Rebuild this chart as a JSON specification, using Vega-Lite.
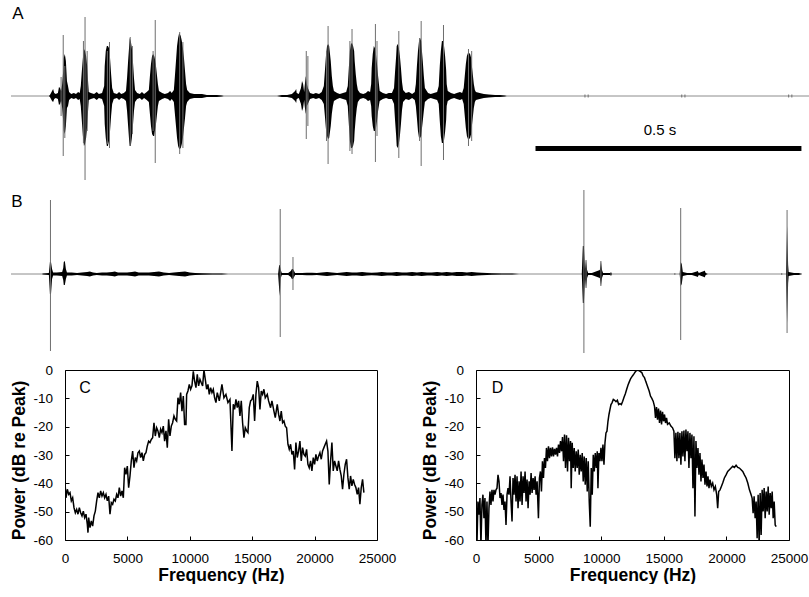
{
"$schema": "https://vega.github.io/schema/vega-lite/v6.json",
"background": "white",
"padding": {"left": 9, "top": 0, "right": 0, "bottom": 0},
"spacing": 0,
"config": {"font": "Liberation Sans", "view": {"stroke": null}, "axis": {"labelOverlap": false, "labelSeparation": 0}},
"datasets": {
"waveA": [
{"t":4,"hi":0,"lo":0},{"t":75,"hi":0,"lo":0},{"t":77,"hi":0.01,"lo":-0.01},{"t":81,"hi":0.05,"lo":-0.05},{"t":83,"hi":0.07,"lo":-0.06},{"t":85,"hi":0.03,"lo":-0.03},{"t":88,"hi":0.02,"lo":-0.02},{"t":92,"hi":0.03,"lo":-0.03},{"t":94,"hi":0.09,"lo":-0.09},{"t":96,"hi":0.08,"lo":-0.08},{"t":98,"hi":0.05,"lo":-0.05},{"t":100,"hi":0.12,"lo":-0.12},{"t":102,"hi":0.25,"lo":-0.25},{"t":103,"hi":0.38,"lo":-0.35},{"t":105,"hi":0.42,"lo":-0.38},{"t":107,"hi":0.35,"lo":-0.30},{"t":109,"hi":0.15,"lo":-0.12},{"t":111,"hi":0.10,"lo":-0.10},{"t":113,"hi":0.04,"lo":-0.04},{"t":117,"hi":0.02,"lo":-0.02},{"t":122,"hi":0.03,"lo":-0.03},{"t":126,"hi":0.02,"lo":-0.02},{"t":130,"hi":0.04,"lo":-0.04},{"t":133,"hi":0.03,"lo":-0.03},{"t":135,"hi":0.10,"lo":-0.10},{"t":137,"hi":0.25,"lo":-0.25},{"t":139,"hi":0.38,"lo":-0.40},{"t":141,"hi":0.47,"lo":-0.50},{"t":143,"hi":0.45,"lo":-0.48},{"t":145,"hi":0.40,"lo":-0.42},{"t":147,"hi":0.30,"lo":-0.30},{"t":149,"hi":0.12,"lo":-0.12},{"t":150,"hi":0.04,"lo":-0.04},{"t":154,"hi":0.03,"lo":-0.03},{"t":160,"hi":0.02,"lo":-0.02},{"t":165,"hi":0.04,"lo":-0.04},{"t":169,"hi":0.02,"lo":-0.02},{"t":175,"hi":0.03,"lo":-0.03},{"t":179,"hi":0.10,"lo":-0.10},{"t":180,"hi":0.30,"lo":-0.28},{"t":182,"hi":0.45,"lo":-0.42},{"t":184,"hi":0.50,"lo":-0.50},{"t":186,"hi":0.50,"lo":-0.50},{"t":188,"hi":0.48,"lo":-0.45},{"t":190,"hi":0.38,"lo":-0.35},{"t":192,"hi":0.22,"lo":-0.20},{"t":194,"hi":0.08,"lo":-0.08},{"t":197,"hi":0.03,"lo":-0.03},{"t":203,"hi":0.02,"lo":-0.02},{"t":207,"hi":0.04,"lo":-0.04},{"t":211,"hi":0.02,"lo":-0.02},{"t":216,"hi":0.03,"lo":-0.03},{"t":220,"hi":0.05,"lo":-0.05},{"t":222,"hi":0.18,"lo":-0.15},{"t":224,"hi":0.35,"lo":-0.30},{"t":226,"hi":0.50,"lo":-0.45},{"t":227,"hi":0.58,"lo":-0.50},{"t":229,"hi":0.55,"lo":-0.50},{"t":231,"hi":0.48,"lo":-0.42},{"t":233,"hi":0.35,"lo":-0.30},{"t":235,"hi":0.18,"lo":-0.15},{"t":237,"hi":0.06,"lo":-0.06},{"t":241,"hi":0.03,"lo":-0.03},{"t":246,"hi":0.02,"lo":-0.02},{"t":250,"hi":0.04,"lo":-0.04},{"t":254,"hi":0.02,"lo":-0.02},{"t":259,"hi":0.04,"lo":-0.04},{"t":263,"hi":0.06,"lo":-0.06},{"t":265,"hi":0.20,"lo":-0.18},{"t":267,"hi":0.32,"lo":-0.30},{"t":269,"hi":0.40,"lo":-0.38},{"t":271,"hi":0.42,"lo":-0.40},{"t":273,"hi":0.40,"lo":-0.40},{"t":274,"hi":0.38,"lo":-0.36},{"t":276,"hi":0.32,"lo":-0.30},{"t":278,"hi":0.22,"lo":-0.20},{"t":280,"hi":0.12,"lo":-0.10},{"t":282,"hi":0.05,"lo":-0.05},{"t":288,"hi":0.03,"lo":-0.03},{"t":293,"hi":0.02,"lo":-0.02},{"t":299,"hi":0.03,"lo":-0.03},{"t":303,"hi":0.05,"lo":-0.05},{"t":306,"hi":0.03,"lo":-0.03},{"t":310,"hi":0.06,"lo":-0.06},{"t":312,"hi":0.20,"lo":-0.18},{"t":314,"hi":0.35,"lo":-0.30},{"t":316,"hi":0.50,"lo":-0.42},{"t":318,"hi":0.58,"lo":-0.50},{"t":320,"hi":0.63,"lo":-0.53},{"t":321,"hi":0.62,"lo":-0.53},{"t":323,"hi":0.60,"lo":-0.52},{"t":325,"hi":0.55,"lo":-0.48},{"t":327,"hi":0.48,"lo":-0.42},{"t":329,"hi":0.38,"lo":-0.32},{"t":331,"hi":0.25,"lo":-0.22},{"t":333,"hi":0.12,"lo":-0.10},{"t":335,"hi":0.06,"lo":-0.06},{"t":340,"hi":0.03,"lo":-0.03},{"t":348,"hi":0.02,"lo":-0.02},{"t":355,"hi":0.02,"lo":-0.02},{"t":363,"hi":0.02,"lo":-0.02},{"t":372,"hi":0.01,"lo":-0.01},{"t":382,"hi":0.01,"lo":-0.01},{"t":391,"hi":0.01,"lo":-0.01},{"t":400,"hi":0.005,"lo":-0.005},{"t":404,"hi":0,"lo":0},
{"t":504,"hi":0,"lo":0},{"t":513,"hi":0.01,"lo":-0.01},{"t":523,"hi":0.01,"lo":-0.01},{"t":532,"hi":0.02,"lo":-0.02},{"t":538,"hi":0.05,"lo":-0.05},{"t":540,"hi":0.07,"lo":-0.07},{"t":541,"hi":0.03,"lo":-0.03},{"t":545,"hi":0.02,"lo":-0.02},{"t":549,"hi":0.08,"lo":-0.08},{"t":551,"hi":0.15,"lo":-0.15},{"t":553,"hi":0.12,"lo":-0.12},{"t":555,"hi":0.04,"lo":-0.04},{"t":556,"hi":0.10,"lo":-0.10},{"t":558,"hi":0.20,"lo":-0.18},{"t":560,"hi":0.12,"lo":-0.10},{"t":562,"hi":0.08,"lo":-0.08},{"t":566,"hi":0.03,"lo":-0.03},{"t":572,"hi":0.02,"lo":-0.02},{"t":577,"hi":0.03,"lo":-0.03},{"t":583,"hi":0.02,"lo":-0.02},{"t":588,"hi":0.04,"lo":-0.04},{"t":592,"hi":0.10,"lo":-0.08},{"t":594,"hi":0.25,"lo":-0.20},{"t":596,"hi":0.40,"lo":-0.33},{"t":598,"hi":0.50,"lo":-0.40},{"t":600,"hi":0.52,"lo":-0.43},{"t":602,"hi":0.50,"lo":-0.42},{"t":603,"hi":0.45,"lo":-0.38},{"t":605,"hi":0.35,"lo":-0.30},{"t":607,"hi":0.20,"lo":-0.18},{"t":609,"hi":0.10,"lo":-0.10},{"t":611,"hi":0.05,"lo":-0.05},{"t":617,"hi":0.03,"lo":-0.03},{"t":622,"hi":0.02,"lo":-0.02},{"t":628,"hi":0.03,"lo":-0.03},{"t":634,"hi":0.04,"lo":-0.04},{"t":637,"hi":0.10,"lo":-0.10},{"t":639,"hi":0.28,"lo":-0.28},{"t":641,"hi":0.45,"lo":-0.45},{"t":643,"hi":0.52,"lo":-0.52},{"t":645,"hi":0.53,"lo":-0.52},{"t":647,"hi":0.50,"lo":-0.50},{"t":649,"hi":0.45,"lo":-0.45},{"t":650,"hi":0.35,"lo":-0.35},{"t":652,"hi":0.22,"lo":-0.22},{"t":654,"hi":0.12,"lo":-0.12},{"t":656,"hi":0.06,"lo":-0.06},{"t":660,"hi":0.03,"lo":-0.03},{"t":666,"hi":0.02,"lo":-0.02},{"t":671,"hi":0.03,"lo":-0.03},{"t":675,"hi":0.05,"lo":-0.05},{"t":679,"hi":0.04,"lo":-0.04},{"t":681,"hi":0.12,"lo":-0.10},{"t":682,"hi":0.28,"lo":-0.20},{"t":684,"hi":0.42,"lo":-0.30},{"t":686,"hi":0.50,"lo":-0.35},{"t":688,"hi":0.48,"lo":-0.35},{"t":690,"hi":0.42,"lo":-0.32},{"t":692,"hi":0.32,"lo":-0.25},{"t":694,"hi":0.20,"lo":-0.15},{"t":696,"hi":0.10,"lo":-0.08},{"t":697,"hi":0.05,"lo":-0.05},{"t":703,"hi":0.03,"lo":-0.03},{"t":709,"hi":0.02,"lo":-0.02},{"t":714,"hi":0.03,"lo":-0.03},{"t":720,"hi":0.03,"lo":-0.03},{"t":724,"hi":0.08,"lo":-0.08},{"t":726,"hi":0.25,"lo":-0.25},{"t":728,"hi":0.40,"lo":-0.40},{"t":729,"hi":0.50,"lo":-0.50},{"t":731,"hi":0.52,"lo":-0.52},{"t":733,"hi":0.48,"lo":-0.48},{"t":735,"hi":0.40,"lo":-0.40},{"t":737,"hi":0.28,"lo":-0.28},{"t":739,"hi":0.14,"lo":-0.14},{"t":741,"hi":0.06,"lo":-0.06},{"t":746,"hi":0.03,"lo":-0.03},{"t":752,"hi":0.04,"lo":-0.04},{"t":758,"hi":0.02,"lo":-0.02},{"t":763,"hi":0.04,"lo":-0.04},{"t":765,"hi":0.12,"lo":-0.10},{"t":767,"hi":0.30,"lo":-0.22},{"t":769,"hi":0.45,"lo":-0.35},{"t":771,"hi":0.55,"lo":-0.42},{"t":773,"hi":0.58,"lo":-0.42},{"t":775,"hi":0.55,"lo":-0.40},{"t":776,"hi":0.48,"lo":-0.35},{"t":778,"hi":0.35,"lo":-0.25},{"t":780,"hi":0.20,"lo":-0.15},{"t":782,"hi":0.08,"lo":-0.06},{"t":788,"hi":0.03,"lo":-0.03},{"t":793,"hi":0.02,"lo":-0.02},{"t":799,"hi":0.03,"lo":-0.03},{"t":805,"hi":0.04,"lo":-0.04},{"t":808,"hi":0.10,"lo":-0.08},{"t":810,"hi":0.30,"lo":-0.25},{"t":812,"hi":0.45,"lo":-0.40},{"t":814,"hi":0.55,"lo":-0.47},{"t":816,"hi":0.55,"lo":-0.47},{"t":818,"hi":0.50,"lo":-0.44},{"t":820,"hi":0.40,"lo":-0.36},{"t":822,"hi":0.26,"lo":-0.24},{"t":823,"hi":0.12,"lo":-0.10},{"t":825,"hi":0.05,"lo":-0.05},{"t":831,"hi":0.03,"lo":-0.03},{"t":837,"hi":0.02,"lo":-0.02},{"t":842,"hi":0.03,"lo":-0.03},{"t":848,"hi":0.04,"lo":-0.04},{"t":852,"hi":0.03,"lo":-0.03},{"t":855,"hi":0.08,"lo":-0.08},{"t":857,"hi":0.20,"lo":-0.20},{"t":859,"hi":0.32,"lo":-0.32},{"t":861,"hi":0.40,"lo":-0.40},{"t":863,"hi":0.43,"lo":-0.43},{"t":865,"hi":0.43,"lo":-0.43},{"t":867,"hi":0.42,"lo":-0.42},{"t":869,"hi":0.38,"lo":-0.38},{"t":870,"hi":0.32,"lo":-0.32},{"t":872,"hi":0.22,"lo":-0.22},{"t":874,"hi":0.12,"lo":-0.12},{"t":876,"hi":0.06,"lo":-0.06},{"t":878,"hi":0.04,"lo":-0.04},{"t":885,"hi":0.03,"lo":-0.03},{"t":893,"hi":0.02,"lo":-0.02},{"t":902,"hi":0.015,"lo":-0.015},{"t":914,"hi":0.01,"lo":-0.01},{"t":923,"hi":0.01,"lo":-0.01},{"t":932,"hi":0.005,"lo":-0.005},{"t":936,"hi":0,"lo":0}
],
"spikesA": [
{"t":98,"hi":0.19,"lo":-0.20},{"t":102,"hi":0.61,"lo":-0.60},{"t":105,"hi":0.30,"lo":-0.42},{"t":140,"hi":0.55,"lo":-0.47},{"t":143,"hi":0.79,"lo":-0.84},{"t":147,"hi":0.45,"lo":-0.35},{"t":185,"hi":0.45,"lo":-0.48},{"t":189,"hi":0.54,"lo":-0.52},{"t":228,"hi":0.59,"lo":-0.50},{"t":232,"hi":0.50,"lo":-0.38},{"t":271,"hi":0.45,"lo":-0.35},{"t":275,"hi":0.76,"lo":-0.67},{"t":321,"hi":0.64,"lo":-0.58},{"t":327,"hi":0.54,"lo":-0.52},{"t":559,"hi":0.45,"lo":-0.43},{"t":562,"hi":0.40,"lo":-0.30},{"t":597,"hi":0.45,"lo":-0.45},{"t":600,"hi":0.70,"lo":-0.68},{"t":641,"hi":0.55,"lo":-0.55},{"t":645,"hi":0.67,"lo":-0.58},{"t":689,"hi":0.72,"lo":-0.66},{"t":692,"hi":0.55,"lo":-0.40},{"t":733,"hi":0.65,"lo":-0.62},{"t":772,"hi":0.58,"lo":-0.45},{"t":775,"hi":0.75,"lo":-0.70},{"t":817,"hi":0.71,"lo":-0.64},{"t":864,"hi":0.47,"lo":-0.50},{"t":870,"hi":0.45,"lo":-0.45},{"t":1083,"hi":0.015,"lo":-0.015},{"t":1089,"hi":0.015,"lo":-0.015},{"t":1265,"hi":0.015,"lo":-0.015},{"t":1271,"hi":0.015,"lo":-0.015},{"t":1466,"hi":0.015,"lo":-0.015},{"t":1472,"hi":0.015,"lo":-0.015}
],
"waveB": [
{"t":4,"hi":0,"lo":0},{"t":62,"hi":0,"lo":0},{"t":64,"hi":0.005,"lo":-0.005},{"t":75,"hi":0.01,"lo":-0.01},{"t":77,"hi":0.12,"lo":-0.20},{"t":79,"hi":0.12,"lo":-0.20},{"t":81,"hi":0.05,"lo":-0.05},{"t":83,"hi":0.015,"lo":-0.015},{"t":90,"hi":0.015,"lo":-0.015},{"t":100,"hi":0.02,"lo":-0.02},{"t":102,"hi":0.06,"lo":-0.06},{"t":103,"hi":0.12,"lo":-0.11},{"t":105,"hi":0.13,"lo":-0.11},{"t":107,"hi":0.05,"lo":-0.05},{"t":109,"hi":0.015,"lo":-0.015},{"t":118,"hi":0.015,"lo":-0.015},{"t":128,"hi":0.01,"lo":-0.01},{"t":137,"hi":0.015,"lo":-0.015},{"t":147,"hi":0.02,"lo":-0.02},{"t":152,"hi":0.025,"lo":-0.025},{"t":158,"hi":0.015,"lo":-0.015},{"t":165,"hi":0.01,"lo":-0.01},{"t":175,"hi":0.015,"lo":-0.015},{"t":184,"hi":0.015,"lo":-0.015},{"t":194,"hi":0.02,"lo":-0.02},{"t":199,"hi":0.025,"lo":-0.025},{"t":205,"hi":0.015,"lo":-0.015},{"t":212,"hi":0.015,"lo":-0.015},{"t":222,"hi":0.015,"lo":-0.015},{"t":231,"hi":0.02,"lo":-0.02},{"t":237,"hi":0.025,"lo":-0.025},{"t":244,"hi":0.015,"lo":-0.015},{"t":254,"hi":0.015,"lo":-0.015},{"t":263,"hi":0.015,"lo":-0.015},{"t":273,"hi":0.02,"lo":-0.02},{"t":282,"hi":0.025,"lo":-0.025},{"t":291,"hi":0.015,"lo":-0.015},{"t":301,"hi":0.01,"lo":-0.01},{"t":310,"hi":0.015,"lo":-0.015},{"t":320,"hi":0.02,"lo":-0.02},{"t":331,"hi":0.025,"lo":-0.025},{"t":340,"hi":0.015,"lo":-0.015},{"t":350,"hi":0.01,"lo":-0.01},{"t":363,"hi":0.008,"lo":-0.008},{"t":382,"hi":0.005,"lo":-0.005},{"t":400,"hi":0.005,"lo":-0.005},{"t":412,"hi":0,"lo":0},
{"t":506,"hi":0,"lo":0},{"t":508,"hi":0.09,"lo":-0.15},{"t":509,"hi":0.09,"lo":-0.22},{"t":511,"hi":0.04,"lo":-0.04},{"t":513,"hi":0.01,"lo":-0.01},{"t":525,"hi":0.01,"lo":-0.01},{"t":530,"hi":0.03,"lo":-0.03},{"t":532,"hi":0.05,"lo":-0.05},{"t":534,"hi":0.05,"lo":-0.05},{"t":536,"hi":0.03,"lo":-0.03},{"t":538,"hi":0.01,"lo":-0.01},{"t":551,"hi":0.01,"lo":-0.01},{"t":560,"hi":0.012,"lo":-0.012},{"t":570,"hi":0.012,"lo":-0.012},{"t":579,"hi":0.01,"lo":-0.01},{"t":588,"hi":0.015,"lo":-0.015},{"t":598,"hi":0.02,"lo":-0.02},{"t":607,"hi":0.015,"lo":-0.015},{"t":617,"hi":0.01,"lo":-0.01},{"t":626,"hi":0.015,"lo":-0.015},{"t":635,"hi":0.02,"lo":-0.02},{"t":645,"hi":0.015,"lo":-0.015},{"t":654,"hi":0.015,"lo":-0.015},{"t":664,"hi":0.02,"lo":-0.02},{"t":673,"hi":0.015,"lo":-0.015},{"t":682,"hi":0.012,"lo":-0.012},{"t":692,"hi":0.015,"lo":-0.015},{"t":701,"hi":0.02,"lo":-0.02},{"t":711,"hi":0.015,"lo":-0.015},{"t":720,"hi":0.015,"lo":-0.015},{"t":729,"hi":0.02,"lo":-0.02},{"t":739,"hi":0.015,"lo":-0.015},{"t":748,"hi":0.015,"lo":-0.015},{"t":758,"hi":0.02,"lo":-0.02},{"t":767,"hi":0.015,"lo":-0.015},{"t":776,"hi":0.02,"lo":-0.02},{"t":786,"hi":0.015,"lo":-0.015},{"t":795,"hi":0.015,"lo":-0.015},{"t":805,"hi":0.02,"lo":-0.02},{"t":814,"hi":0.015,"lo":-0.015},{"t":823,"hi":0.02,"lo":-0.02},{"t":833,"hi":0.015,"lo":-0.015},{"t":842,"hi":0.02,"lo":-0.02},{"t":852,"hi":0.02,"lo":-0.02},{"t":861,"hi":0.015,"lo":-0.015},{"t":870,"hi":0.02,"lo":-0.02},{"t":880,"hi":0.015,"lo":-0.015},{"t":889,"hi":0.012,"lo":-0.012},{"t":899,"hi":0.01,"lo":-0.01},{"t":908,"hi":0.008,"lo":-0.008},{"t":927,"hi":0.005,"lo":-0.005},{"t":946,"hi":0.005,"lo":-0.005},{"t":959,"hi":0,"lo":0},
{"t":1077,"hi":0,"lo":0},{"t":1079,"hi":0.28,"lo":-0.29},{"t":1081,"hi":0.28,"lo":-0.29},{"t":1083,"hi":0.05,"lo":-0.05},{"t":1085,"hi":0.14,"lo":-0.14},{"t":1087,"hi":0.04,"lo":-0.04},{"t":1089,"hi":0.01,"lo":-0.01},{"t":1096,"hi":0.01,"lo":-0.01},{"t":1111,"hi":0.04,"lo":-0.04},{"t":1113,"hi":0.13,"lo":-0.12},{"t":1115,"hi":0.04,"lo":-0.04},{"t":1117,"hi":0.01,"lo":-0.01},{"t":1130,"hi":0.01,"lo":-0.01},{"t":1132,"hi":0.015,"lo":-0.015},{"t":1134,"hi":0,"lo":0},
{"t":1261,"hi":0,"lo":0},{"t":1263,"hi":0.12,"lo":-0.12},{"t":1265,"hi":0.10,"lo":-0.10},{"t":1267,"hi":0.02,"lo":-0.02},{"t":1275,"hi":0.01,"lo":-0.01},{"t":1284,"hi":0.01,"lo":-0.01},{"t":1293,"hi":0.025,"lo":-0.025},{"t":1295,"hi":0.03,"lo":-0.03},{"t":1297,"hi":0.01,"lo":-0.01},{"t":1307,"hi":0.03,"lo":-0.03},{"t":1308,"hi":0.035,"lo":-0.035},{"t":1310,"hi":0.01,"lo":-0.01},{"t":1314,"hi":0,"lo":0},
{"t":1461,"hi":0,"lo":0},{"t":1463,"hi":0.48,"lo":-0.49},{"t":1465,"hi":0.09,"lo":-0.09},{"t":1466,"hi":0.02,"lo":-0.02},{"t":1476,"hi":0.01,"lo":-0.01},{"t":1485,"hi":0.01,"lo":-0.01},{"t":1491,"hi":0,"lo":0}
],
"spikesB": [
{"t":78,"hi":0.74,"lo":-0.77},{"t":510,"hi":0.65,"lo":-0.63},{"t":534,"hi":0.17,"lo":-0.16},{"t":1081,"hi":0.84,"lo":-0.79},{"t":1085,"hi":0.14,"lo":-0.14},{"t":1113,"hi":0.13,"lo":-0.12},{"t":1263,"hi":0.66,"lo":-0.66},{"t":1463,"hi":0.64,"lo":-0.59},{"t":1132,"hi":0.015,"lo":-0.015},{"t":1252,"hi":0.01,"lo":-0.01},{"t":1453,"hi":0.01,"lo":-0.01}
],
"specC": [
{"f":0,"db":-39.8},{"f":80,"db":-45.1},{"f":187,"db":-42.1},{"f":294,"db":-43.9},{"f":400,"db":-43.3},{"f":507,"db":-46.2},{"f":614,"db":-45.1},{"f":721,"db":-48.6},{"f":828,"db":-50.4},{"f":934,"db":-49.2},{"f":1041,"db":-50.9},{"f":1148,"db":-48.6},{"f":1255,"db":-50.4},{"f":1362,"db":-51.5},{"f":1468,"db":-49.8},{"f":1575,"db":-52.1},{"f":1682,"db":-50.9},{"f":1789,"db":-54.5},{"f":1842,"db":-57.4},{"f":1896,"db":-52.1},{"f":2003,"db":-55.6},{"f":2109,"db":-53.3},{"f":2216,"db":-55.1},{"f":2323,"db":-51.5},{"f":2430,"db":-49.8},{"f":2537,"db":-46.2},{"f":2643,"db":-43.3},{"f":2750,"db":-45.1},{"f":2857,"db":-42.7},{"f":2964,"db":-44.5},{"f":3071,"db":-43.3},{"f":3177,"db":-45.1},{"f":3284,"db":-43.9},{"f":3391,"db":-46.2},{"f":3498,"db":-44.5},{"f":3605,"db":-50.9},{"f":3711,"db":-46.8},{"f":3818,"db":-47.4},{"f":3925,"db":-45.6},{"f":4032,"db":-46.2},{"f":4139,"db":-43.9},{"f":4245,"db":-45.1},{"f":4352,"db":-41.5},{"f":4459,"db":-44.5},{"f":4566,"db":-42.7},{"f":4673,"db":-45.1},{"f":4779,"db":-34.5},{"f":4886,"db":-36.8},{"f":4993,"db":-33.9},{"f":5100,"db":-41.5},{"f":5207,"db":-37.4},{"f":5313,"db":-32.1},{"f":5420,"db":-28.6},{"f":5527,"db":-34.5},{"f":5634,"db":-30.9},{"f":5741,"db":-32.1},{"f":5847,"db":-29.2},{"f":5954,"db":-28.6},{"f":6061,"db":-30.9},{"f":6168,"db":-29.2},{"f":6275,"db":-32.1},{"f":6381,"db":-29.8},{"f":6488,"db":-29.2},{"f":6595,"db":-26.8},{"f":6702,"db":-25.1},{"f":6809,"db":-25.6},{"f":6915,"db":-24.5},{"f":7022,"db":-23.9},{"f":7129,"db":-18.6},{"f":7236,"db":-23.3},{"f":7343,"db":-20.4},{"f":7449,"db":-21.5},{"f":7556,"db":-23.9},{"f":7663,"db":-20.9},{"f":7770,"db":-22.1},{"f":7877,"db":-19.8},{"f":7983,"db":-25.1},{"f":8090,"db":-21.5},{"f":8197,"db":-27.4},{"f":8304,"db":-17.4},{"f":8411,"db":-23.3},{"f":8517,"db":-19.8},{"f":8624,"db":-18.6},{"f":8731,"db":-16.2},{"f":8838,"db":-17.4},{"f":8945,"db":-18.0},{"f":9051,"db":-9.8},{"f":9158,"db":-12.1},{"f":9265,"db":-8.0},{"f":9372,"db":-14.5},{"f":9479,"db":-9.2},{"f":9585,"db":-19.2},{"f":9692,"db":-19.2},{"f":9746,"db":-8.6},{"f":9852,"db":-7.4},{"f":9959,"db":-5.1},{"f":10066,"db":-6.8},{"f":10173,"db":-5.6},{"f":10280,"db":-0.5},{"f":10386,"db":-3.9},{"f":10493,"db":-6.2},{"f":10600,"db":-1.5},{"f":10707,"db":-5.6},{"f":10814,"db":-3.3},{"f":10920,"db":-4.5},{"f":11027,"db":-5.6},{"f":11134,"db":0},{"f":11241,"db":-3.3},{"f":11348,"db":-6.8},{"f":11454,"db":-5.1},{"f":11561,"db":-8.6},{"f":11668,"db":-6.2},{"f":11775,"db":-8.0},{"f":11882,"db":-6.8},{"f":11988,"db":-9.8},{"f":12095,"db":-11.5},{"f":12202,"db":-8.0},{"f":12309,"db":-9.8},{"f":12362,"db":-10.9},{"f":12576,"db":-5.1},{"f":12736,"db":-9.8},{"f":12896,"db":-8.6},{"f":13057,"db":-11.5},{"f":13217,"db":-10.4},{"f":13377,"db":-28.6},{"f":13484,"db":-12.1},{"f":13591,"db":-13.9},{"f":13697,"db":-10.4},{"f":13804,"db":-13.3},{"f":13911,"db":-10.9},{"f":14018,"db":-16.2},{"f":14125,"db":-10.9},{"f":14231,"db":-18.6},{"f":14338,"db":-23.9},{"f":14445,"db":-20.4},{"f":14552,"db":-21.5},{"f":14659,"db":-22.1},{"f":14765,"db":-13.3},{"f":14872,"db":-10.9},{"f":14979,"db":-10.4},{"f":15086,"db":-8.6},{"f":15193,"db":-18.0},{"f":15299,"db":-8.6},{"f":15406,"db":-3.9},{"f":15513,"db":-6.2},{"f":15620,"db":-13.9},{"f":15727,"db":-7.4},{"f":15833,"db":-8.6},{"f":15940,"db":-6.8},{"f":16047,"db":-9.8},{"f":16207,"db":-8.6},{"f":16314,"db":-10.9},{"f":16474,"db":-13.3},{"f":16581,"db":-10.9},{"f":16741,"db":-14.5},{"f":16848,"db":-16.8},{"f":17008,"db":-12.1},{"f":17115,"db":-15.6},{"f":17222,"db":-18.0},{"f":17329,"db":-14.5},{"f":17435,"db":-18.6},{"f":17542,"db":-18.0},{"f":17649,"db":-19.8},{"f":17756,"db":-20.4},{"f":17863,"db":-26.2},{"f":17969,"db":-28.0},{"f":18076,"db":-26.2},{"f":18183,"db":-29.8},{"f":18290,"db":-28.6},{"f":18397,"db":-35.1},{"f":18503,"db":-25.6},{"f":18610,"db":-30.9},{"f":18717,"db":-28.6},{"f":18824,"db":-25.1},{"f":18931,"db":-32.1},{"f":19037,"db":-27.4},{"f":19144,"db":-29.8},{"f":19251,"db":-30.4},{"f":19358,"db":-28.0},{"f":19465,"db":-33.3},{"f":19571,"db":-34.5},{"f":19678,"db":-32.1},{"f":19785,"db":-35.6},{"f":19892,"db":-30.9},{"f":19999,"db":-33.3},{"f":20105,"db":-29.8},{"f":20212,"db":-32.1},{"f":20319,"db":-30.4},{"f":20426,"db":-29.2},{"f":20533,"db":-31.5},{"f":20639,"db":-28.6},{"f":20746,"db":-27.4},{"f":20853,"db":-26.2},{"f":20960,"db":-25.1},{"f":21067,"db":-28.6},{"f":21173,"db":-40.4},{"f":21280,"db":-32.1},{"f":21387,"db":-25.6},{"f":21494,"db":-35.6},{"f":21601,"db":-32.1},{"f":21707,"db":-33.9},{"f":21814,"db":-35.6},{"f":21921,"db":-32.1},{"f":22028,"db":-35.1},{"f":22135,"db":-37.4},{"f":22241,"db":-42.1},{"f":22348,"db":-36.8},{"f":22455,"db":-33.3},{"f":22562,"db":-31.5},{"f":22669,"db":-38.0},{"f":22775,"db":-42.1},{"f":22882,"db":-37.4},{"f":22989,"db":-40.9},{"f":23096,"db":-38.6},{"f":23203,"db":-40.4},{"f":23309,"db":-41.5},{"f":23416,"db":-43.9},{"f":23523,"db":-41.5},{"f":23630,"db":-47.4},{"f":23737,"db":-41.5},{"f":23843,"db":-38.6},{"f":23950,"db":-43.3}
],
"specD": [
{"f":0,"db":-44.0},{"f":75,"db":-62},{"f":155,"db":-46.4},{"f":235,"db":-51.1},{"f":315,"db":-45.2},{"f":395,"db":-62},{"f":475,"db":-47.6},{"f":555,"db":-44.0},{"f":635,"db":-52.3},{"f":715,"db":-45.2},{"f":795,"db":-62},{"f":876,"db":-46.4},{"f":956,"db":-62},{"f":1036,"db":-48.8},{"f":1116,"db":-42.9},{"f":1196,"db":-47.6},{"f":1276,"db":-42.3},{"f":1356,"db":-46.4},{"f":1436,"db":-42.3},{"f":1516,"db":-44.0},{"f":1597,"db":-42.3},{"f":1677,"db":-41.7},{"f":1757,"db":-37.0},{"f":1837,"db":-39.3},{"f":1917,"db":-45.2},{"f":1997,"db":-43.4},{"f":2077,"db":-47.6},{"f":2157,"db":-44.0},{"f":2237,"db":-49.4},{"f":2317,"db":-46.4},{"f":2397,"db":-54.7},{"f":2478,"db":-44.0},{"f":2558,"db":-41.7},{"f":2638,"db":-44.0},{"f":2718,"db":-37.5},{"f":2798,"db":-46.4},{"f":2878,"db":-53.5},{"f":2958,"db":-38.1},{"f":3038,"db":-44.0},{"f":3118,"db":-37.0},{"f":3198,"db":-46.4},{"f":3278,"db":-37.5},{"f":3359,"db":-48.8},{"f":3439,"db":-39.3},{"f":3519,"db":-46.4},{"f":3599,"db":-35.8},{"f":3679,"db":-47.6},{"f":3759,"db":-37.5},{"f":3839,"db":-43.4},{"f":3919,"db":-35.8},{"f":3999,"db":-46.4},{"f":4079,"db":-38.7},{"f":4159,"db":-48.8},{"f":4240,"db":-39.3},{"f":4320,"db":-44.0},{"f":4400,"db":-36.4},{"f":4480,"db":-43.4},{"f":4560,"db":-38.1},{"f":4640,"db":-42.3},{"f":4720,"db":-37.5},{"f":4800,"db":-44.0},{"f":4880,"db":-39.3},{"f":4987,"db":-52.3},{"f":5067,"db":-38.1},{"f":5147,"db":-35.8},{"f":5227,"db":-42.9},{"f":5308,"db":-32.2},{"f":5388,"db":-38.1},{"f":5468,"db":-31.1},{"f":5548,"db":-34.6},{"f":5628,"db":-27.5},{"f":5708,"db":-32.2},{"f":5788,"db":-26.9},{"f":5868,"db":-31.1},{"f":5948,"db":-27.5},{"f":6028,"db":-30.5},{"f":6109,"db":-27.3},{"f":6189,"db":-30.5},{"f":6269,"db":-27.8},{"f":6349,"db":-29.9},{"f":6429,"db":-27.5},{"f":6509,"db":-30.5},{"f":6589,"db":-26.3},{"f":6669,"db":-29.3},{"f":6749,"db":-25.1},{"f":6829,"db":-28.7},{"f":6909,"db":-23.7},{"f":6990,"db":-32.2},{"f":7070,"db":-22.8},{"f":7150,"db":-34.6},{"f":7230,"db":-23.0},{"f":7310,"db":-35.8},{"f":7390,"db":-23.9},{"f":7470,"db":-32.2},{"f":7550,"db":-25.1},{"f":7604,"db":-41.7},{"f":7684,"db":-25.7},{"f":7764,"db":-34.6},{"f":7844,"db":-27.5},{"f":7924,"db":-35.8},{"f":8004,"db":-28.7},{"f":8084,"db":-34.6},{"f":8164,"db":-28.1},{"f":8245,"db":-37.0},{"f":8325,"db":-29.9},{"f":8405,"db":-35.8},{"f":8485,"db":-29.3},{"f":8565,"db":-39.3},{"f":8645,"db":-30.5},{"f":8725,"db":-40.5},{"f":8805,"db":-31.1},{"f":8885,"db":-42.9},{"f":8965,"db":-32.2},{"f":9045,"db":-46.4},{"f":9125,"db":-55.3},{"f":9205,"db":-34.6},{"f":9286,"db":-44.0},{"f":9366,"db":-29.9},{"f":9446,"db":-35.8},{"f":9526,"db":-29.3},{"f":9606,"db":-34.6},{"f":9686,"db":-28.7},{"f":9740,"db":-41.7},{"f":9820,"db":-29.3},{"f":9900,"db":-32.2},{"f":9980,"db":-27.5},{"f":10060,"db":-32.2},{"f":10140,"db":-26.3},{"f":10221,"db":-33.4},{"f":10301,"db":-25.7},{"f":10381,"db":-22.2},{"f":10461,"db":-21.6},{"f":10541,"db":-18.1},{"f":10621,"db":-15.7},{"f":10701,"db":-13.9},{"f":10781,"db":-12.2},{"f":10862,"db":-11.6},{"f":10968,"db":-10.4},{"f":11075,"db":-10.7},{"f":11182,"db":-11.2},{"f":11289,"db":-10.7},{"f":11396,"db":-12.2},{"f":11502,"db":-11.9},{"f":11609,"db":-12.2},{"f":11716,"db":-11.0},{"f":11823,"db":-9.6},{"f":11929,"db":-8.4},{"f":12036,"db":-6.8},{"f":12143,"db":-5.3},{"f":12250,"db":-4.1},{"f":12356,"db":-3.0},{"f":12496,"db":-2.1},{"f":12629,"db":-1.3},{"f":12763,"db":-0.4},{"f":12923,"db":0},{"f":13083,"db":-0.4},{"f":13243,"db":-0.9},{"f":13350,"db":-2.1},{"f":13457,"db":-2.7},{"f":13564,"db":-4.1},{"f":13697,"db":-5.7},{"f":13831,"db":-7.4},{"f":13938,"db":-9.2},{"f":14044,"db":-10.0},{"f":14151,"db":-11.0},{"f":14258,"db":-12.8},{"f":14338,"db":-16.9},{"f":14418,"db":-13.1},{"f":14498,"db":-17.5},{"f":14578,"db":-13.6},{"f":14658,"db":-18.7},{"f":14738,"db":-14.3},{"f":14819,"db":-19.2},{"f":14899,"db":-14.8},{"f":14979,"db":-18.1},{"f":15059,"db":-15.7},{"f":15139,"db":-18.7},{"f":15219,"db":-16.9},{"f":15299,"db":-19.2},{"f":15433,"db":-18.7},{"f":15566,"db":-19.8},{"f":15700,"db":-20.4},{"f":15806,"db":-21.6},{"f":15886,"db":-31.1},{"f":15967,"db":-22.2},{"f":16047,"db":-32.2},{"f":16127,"db":-21.8},{"f":16207,"db":-31.1},{"f":16287,"db":-22.2},{"f":16367,"db":-33.4},{"f":16447,"db":-21.6},{"f":16527,"db":-30.5},{"f":16607,"db":-21.4},{"f":16687,"db":-32.2},{"f":16768,"db":-21.0},{"f":16848,"db":-28.7},{"f":16928,"db":-21.6},{"f":17008,"db":-34.6},{"f":17088,"db":-22.2},{"f":17168,"db":-31.1},{"f":17248,"db":-22.8},{"f":17328,"db":-41.7},{"f":17408,"db":-23.4},{"f":17488,"db":-51.7},{"f":17569,"db":-25.1},{"f":17649,"db":-34.6},{"f":17729,"db":-27.5},{"f":17809,"db":-37.0},{"f":17889,"db":-29.3},{"f":17969,"db":-39.3},{"f":18049,"db":-31.6},{"f":18129,"db":-38.1},{"f":18209,"db":-33.4},{"f":18289,"db":-40.5},{"f":18370,"db":-35.8},{"f":18450,"db":-41.1},{"f":18530,"db":-37.5},{"f":18610,"db":-41.7},{"f":18690,"db":-38.7},{"f":18797,"db":-41.1},{"f":18904,"db":-39.9},{"f":19010,"db":-42.3},{"f":19117,"db":-41.1},{"f":19224,"db":-44.0},{"f":19304,"db":-48.8},{"f":19384,"db":-42.9},{"f":19491,"db":-42.3},{"f":19598,"db":-41.1},{"f":19705,"db":-39.9},{"f":19838,"db":-38.1},{"f":19972,"db":-37.0},{"f":20105,"db":-35.8},{"f":20239,"db":-35.2},{"f":20372,"db":-34.6},{"f":20506,"db":-34.0},{"f":20639,"db":-34.4},{"f":20773,"db":-33.6},{"f":20906,"db":-34.4},{"f":21040,"db":-34.6},{"f":21173,"db":-35.2},{"f":21307,"db":-35.8},{"f":21440,"db":-37.0},{"f":21574,"db":-38.1},{"f":21707,"db":-39.9},{"f":21841,"db":-42.3},{"f":21974,"db":-44.0},{"f":22054,"db":-45.2},{"f":22134,"db":-50.5},{"f":22214,"db":-44.6},{"f":22295,"db":-52.3},{"f":22375,"db":-46.4},{"f":22455,"db":-59.4},{"f":22535,"db":-44.0},{"f":22615,"db":-62},{"f":22695,"db":-43.4},{"f":22775,"db":-58.2},{"f":22855,"db":-42.3},{"f":22935,"db":-49.9},{"f":23015,"db":-41.7},{"f":23096,"db":-52.3},{"f":23176,"db":-42.9},{"f":23256,"db":-49.9},{"f":23336,"db":-41.1},{"f":23416,"db":-51.1},{"f":23496,"db":-43.4},{"f":23576,"db":-48.8},{"f":23656,"db":-42.9},{"f":23736,"db":-52.3},{"f":23816,"db":-46.4},{"f":23897,"db":-54.7},{"f":23977,"db":-55.3}
]
},
"vconcat": [
{
"width": 746, "height": 185,
"layer": [
{"data": {"values": [{}]}, "mark": {"type": "rule", "color": "#8c8c8c", "strokeWidth": 1},
 "encoding": {"x": {"datum": 3.8, "type": "quantitative", "scale": {"domain": [3.8, 1508], "range": [-54, 746], "nice": false, "zero": false}, "axis": null}, "x2": {"datum": 1508}, "y": {"datum": 0, "type": "quantitative", "scale": {"domain": [-0.89, 0.96], "nice": false, "zero": false}, "axis": null}}},
{"data": {"name": "waveA"}, "mark": {"type": "area", "color": "black", "opacity": 1},
 "encoding": {"x": {"field": "t", "type": "quantitative", "axis": null}, "y": {"field": "hi", "type": "quantitative", "axis": null}, "y2": {"field": "lo"}}},
{"data": {"name": "spikesA"}, "mark": {"type": "rule", "color": "#6e6e6e", "strokeWidth": 1},
 "encoding": {"x": {"field": "t", "type": "quantitative", "axis": null}, "y": {"field": "hi", "type": "quantitative", "axis": null}, "y2": {"field": "lo"}}},
{"data": {"values": [{}]}, "mark": {"type": "rule", "color": "black", "strokeWidth": 5},
 "encoding": {"x": {"datum": 990, "type": "quantitative", "axis": null}, "x2": {"datum": 1490}, "y": {"datum": -0.525, "type": "quantitative", "axis": null}}},
{"data": {"values": [{}]}, "mark": {"type": "text", "text": "0.5 s", "fontSize": 15, "color": "black", "align": "center", "baseline": "middle"},
 "encoding": {"x": {"datum": 1224, "type": "quantitative", "axis": null}, "y": {"datum": -0.34, "type": "quantitative", "axis": null}}},
{"data": {"values": [{}]}, "mark": {"type": "text", "text": "A", "fontSize": 17, "color": "black", "align": "center", "baseline": "middle"},
 "encoding": {"x": {"datum": 17, "type": "quantitative", "axis": null}, "y": {"datum": 0.82, "type": "quantitative", "axis": null}}}
]
},
{
"width": 746, "height": 177,
"layer": [
{"data": {"values": [{}]}, "mark": {"type": "rule", "color": "#8c8c8c", "strokeWidth": 1},
 "encoding": {"x": {"datum": 3.8, "type": "quantitative", "scale": {"domain": [3.8, 1508], "range": [-54, 746], "nice": false, "zero": false}, "axis": null}, "x2": {"datum": 1491}, "y": {"datum": 0, "type": "quantitative", "scale": {"domain": [-0.88, 0.89], "nice": false, "zero": false}, "axis": null}}},
{"data": {"name": "waveB"}, "mark": {"type": "area", "color": "black", "opacity": 1},
 "encoding": {"x": {"field": "t", "type": "quantitative", "axis": null}, "y": {"field": "hi", "type": "quantitative", "axis": null}, "y2": {"field": "lo"}}},
{"data": {"name": "spikesB"}, "mark": {"type": "rule", "color": "#6e6e6e", "strokeWidth": 1},
 "encoding": {"x": {"field": "t", "type": "quantitative", "axis": null}, "y": {"field": "hi", "type": "quantitative", "axis": null}, "y2": {"field": "lo"}}},
{"data": {"values": [{}]}, "mark": {"type": "text", "text": "B", "fontSize": 17, "color": "black", "align": "center", "baseline": "middle"},
 "encoding": {"x": {"datum": 15, "type": "quantitative", "axis": null}, "y": {"datum": 0.72, "type": "quantitative", "axis": null}}}
]
},
{
"bounds": "flush",
"spacing": 99,
"hconcat": [
{
"width": 312, "height": 170,
"view": {"stroke": "black", "strokeWidth": 1},
"encoding": {
  "x": {"field": "f", "type": "quantitative", "scale": {"domain": [0, 25000], "nice": false, "zero": false},
   "axis": {"values": [0, 5000, 10000, 15000, 20000, 25000], "labelExpr": "'' + datum.value", "title": "Frequency (Hz)", "grid": false, "domain": false, "tickSize": -4, "tickColor": "black", "labelPadding": 15.6, "labelFontSize": 13.5, "labelColor": "black", "labelFlush": false, "labelOverlap": false, "titleFontSize": 17.5, "titleFontWeight": "bold", "titleColor": "black", "titleX": 156, "titleY": 40, "titleBaseline": "alphabetic"}},
  "y": {"field": "db", "type": "quantitative", "scale": {"domain": [-60, 0], "nice": false, "zero": false},
   "axis": {"values": [-60, -50, -40, -30, -20, -10, 0], "labelExpr": "'' + datum.value", "title": "Power (dB re Peak)", "grid": false, "domain": false, "tickSize": -4, "tickColor": "black", "labelPadding": 16.5, "labelFontSize": 13.5, "labelColor": "black", "labelFlush": false, "labelOverlap": false, "labelSeparation": 0, "titleFontSize": 17.5, "titleFontWeight": "bold", "titleColor": "black", "titleX": -41, "titleY": 90, "titleBaseline": "alphabetic"}}
},
"layer": [
{"data": {"name": "specC"}, "mark": {"type": "line", "color": "black", "strokeWidth": 1.5, "clip": true}},
{"data": {"values": [{"f": 1603, "db": -6.4, "lab": "C"}]}, "mark": {"type": "text", "fontSize": 16, "color": "black", "align": "center", "baseline": "middle"},
 "encoding": {"text": {"field": "lab"}}}
]
},
{
"width": 313, "height": 170,
"view": {"stroke": "black", "strokeWidth": 1},
"encoding": {
  "x": {"field": "f", "type": "quantitative", "scale": {"domain": [0, 25000], "nice": false, "zero": false},
   "axis": {"values": [0, 5000, 10000, 15000, 20000, 25000], "labelExpr": "'' + datum.value", "title": "Frequency (Hz)", "grid": false, "domain": false, "tickSize": -4, "tickColor": "black", "labelPadding": 15.6, "labelFontSize": 13.5, "labelColor": "black", "labelFlush": false, "labelOverlap": false, "titleFontSize": 17.5, "titleFontWeight": "bold", "titleColor": "black", "titleX": 156.5, "titleY": 40, "titleBaseline": "alphabetic"}},
  "y": {"field": "db", "type": "quantitative", "scale": {"domain": [-60, 0], "nice": false, "zero": false},
   "axis": {"values": [-60, -50, -40, -30, -20, -10, 0], "labelExpr": "'' + datum.value", "title": "Power (dB re Peak)", "grid": false, "domain": false, "tickSize": -4, "tickColor": "black", "labelPadding": 16.5, "labelFontSize": 13.5, "labelColor": "black", "labelFlush": false, "labelOverlap": false, "labelSeparation": 0, "titleFontSize": 17.5, "titleFontWeight": "bold", "titleColor": "black", "titleX": -41, "titleY": 90, "titleBaseline": "alphabetic"}}
},
"layer": [
{"data": {"name": "specD"}, "mark": {"type": "line", "color": "black", "strokeWidth": 1.5, "clip": true}},
{"data": {"values": [{"f": 1722, "db": -6.4, "lab": "D"}]}, "mark": {"type": "text", "fontSize": 16, "color": "black", "align": "center", "baseline": "middle"},
 "encoding": {"text": {"field": "lab"}}}
]
}
]
}
]
}
